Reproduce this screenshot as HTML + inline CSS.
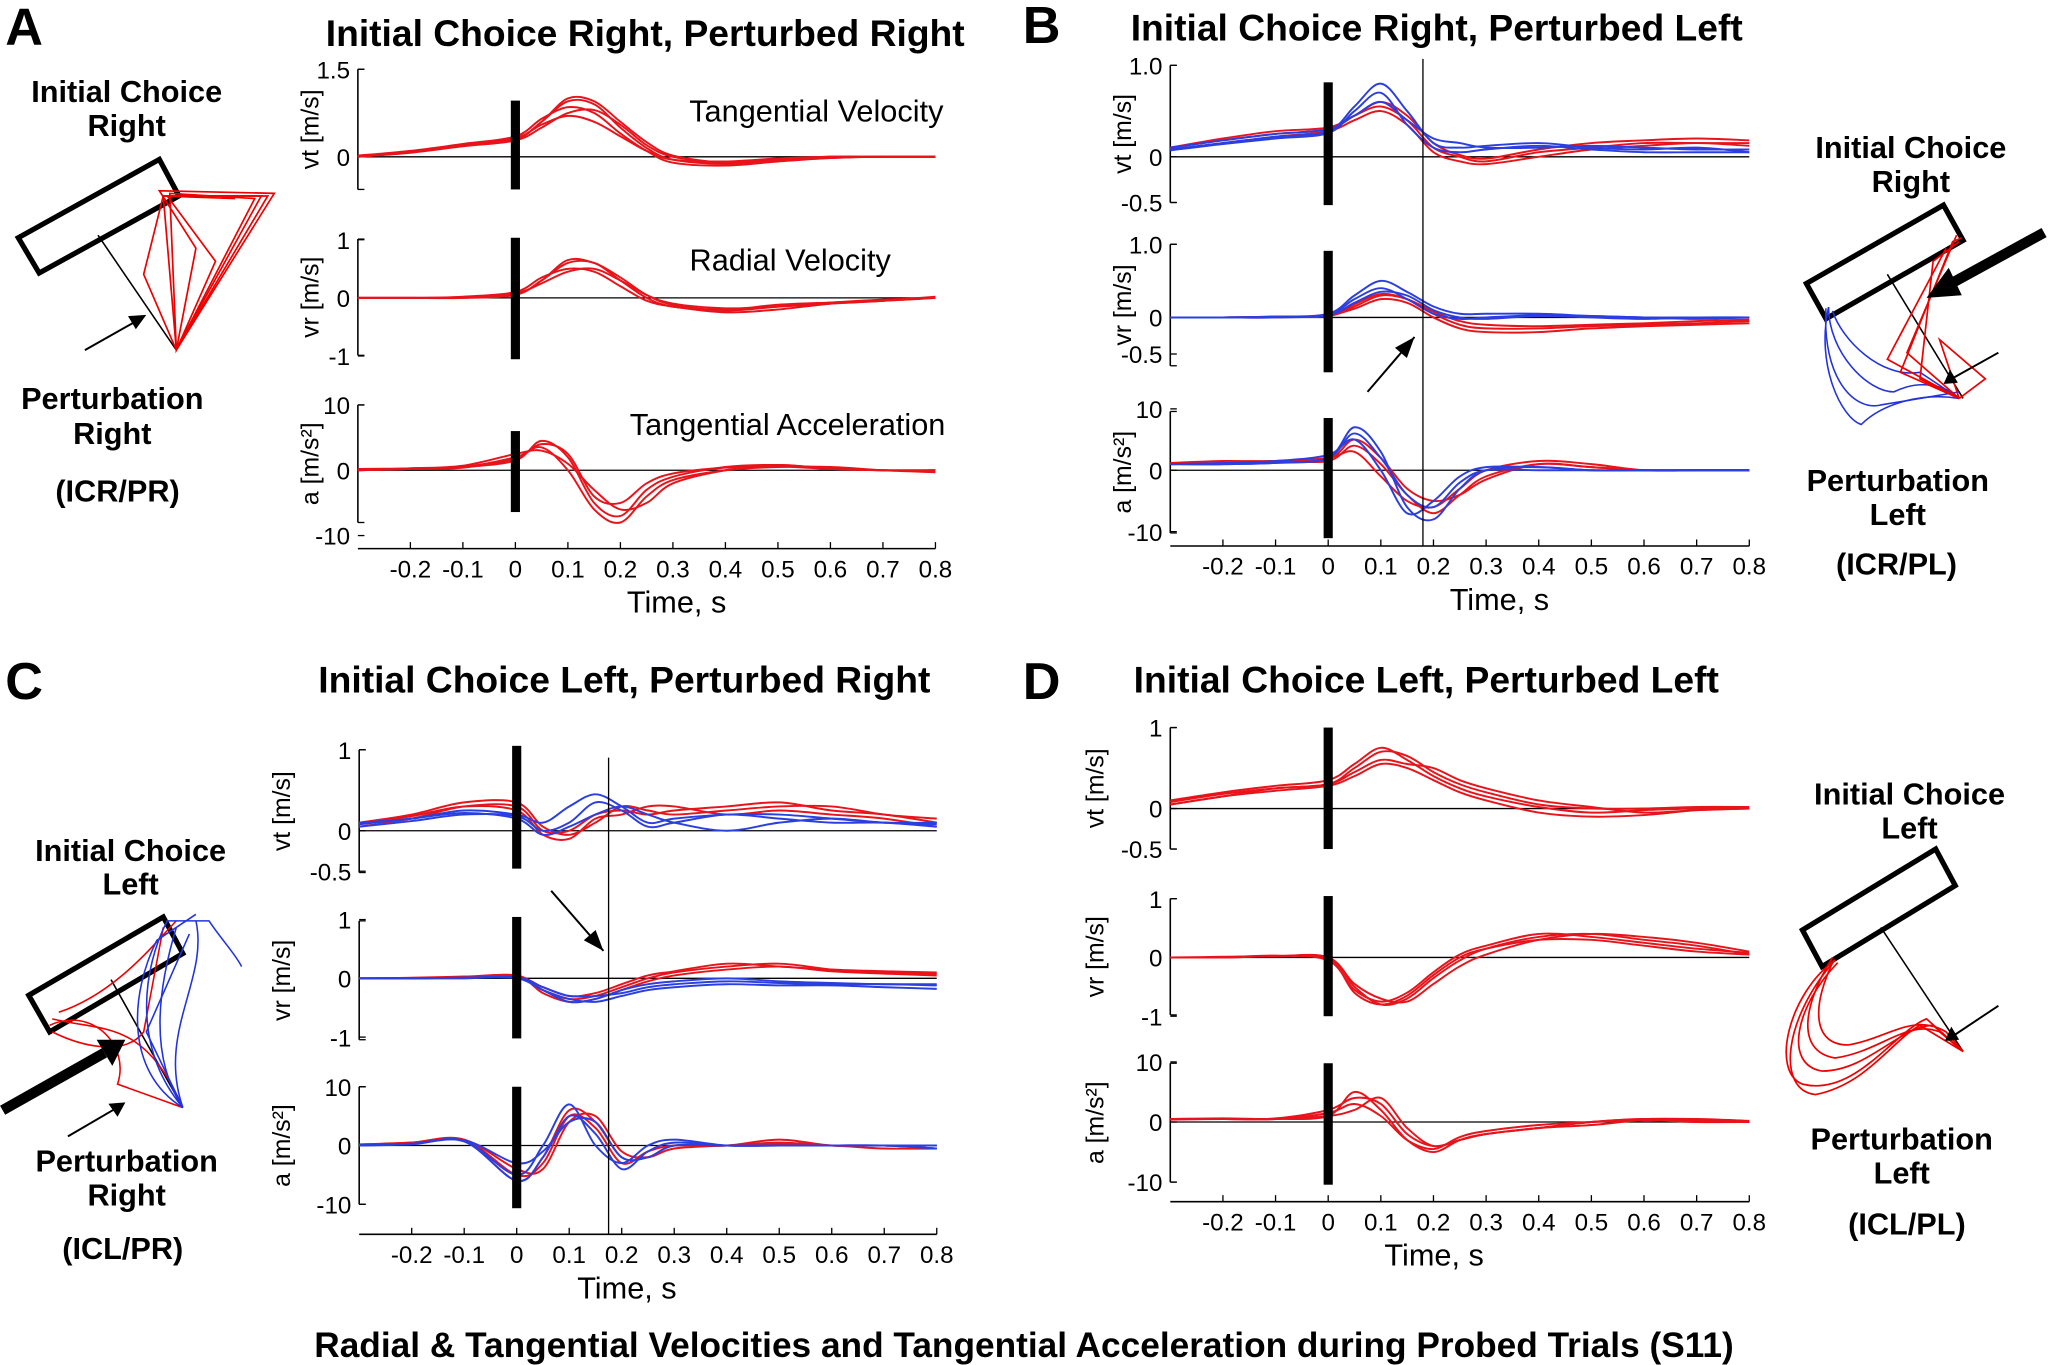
<!DOCTYPE html>
<html><head><meta charset="utf-8">
<style>
html,body{margin:0;padding:0;background:#fff;}
svg{display:block;font-family:"Liberation Sans",Arial,sans-serif;}
.b{font-weight:bold;}
</style></head>
<body>
<svg id="fig" width="2048" height="1365" viewBox="0 0 1568 1045" xmlns="http://www.w3.org/2000/svg">
<rect width="1568" height="1045" fill="#fff"/>
<g class="b" font-size="40">
<text x="4" y="34">A</text><text x="783" y="33">B</text><text x="4" y="535">C</text><text x="783" y="535">D</text>
</g>
<g class="b" font-size="28.5" text-anchor="middle">
<text x="494" y="35">Initial Choice Right, Perturbed Right</text>
<text x="1100" y="31">Initial Choice Right, Perturbed Left</text>
<text x="478" y="530">Initial Choice Left, Perturbed Right</text>
<text x="1092" y="530">Initial Choice Left, Perturbed Left</text>
<text x="784" y="1039" font-size="27">Radial &amp; Tangential Velocities and Tangential Acceleration during Probed Trials (S11)</text>
</g>
<g font-size="23.5">
<text x="625" y="93" text-anchor="middle">Tangential Velocity</text>
<text x="605" y="207" text-anchor="middle">Radial Velocity</text>
<text x="603" y="333" text-anchor="middle">Tangential Acceleration</text>
</g>
<g class="b" font-size="23.5" text-anchor="middle">
<text x="97" y="78">Initial Choice</text><text x="97" y="104">Right</text>
<text x="86" y="313">Perturbation</text><text x="86" y="340">Right</text><text x="90" y="384">(ICR/PR)</text>
<text x="1463" y="121">Initial Choice</text><text x="1463" y="147">Right</text>
<text x="1453" y="376">Perturbation</text><text x="1453" y="402">Left</text><text x="1452" y="440">(ICR/PL)</text>
<text x="100" y="659">Initial Choice</text><text x="100" y="685">Left</text>
<text x="97" y="897">Perturbation</text><text x="97" y="923">Right</text><text x="94" y="964">(ICL/PR)</text>
<text x="1462" y="616">Initial Choice</text><text x="1462" y="642">Left</text>
<text x="1456" y="880">Perturbation</text><text x="1456" y="906">Left</text><text x="1460" y="945">(ICL/PL)</text>
</g>
<g fill="none">
<polygon points="14,182 122,122 137,150 30,209" stroke="#000" stroke-width="4"/>
<line x1="75" y1="180" x2="135" y2="268" stroke="#000" stroke-width="1.2"/>
<g stroke="#e00" stroke-width="1.3">
<path d="M135,268 L125,150 L205,150 Z"/><path d="M135,268 L130,148 L195,152 Z"/><path d="M135,268 L150,190 L122,146 L210,148 Z"/><path d="M135,268 L165,200 L128,150 L200,150 Z"/><path d="M135,268 L110,210 L125,150 L180,152"/>
</g>
<line x1="65" y1="268" x2="104" y2="246" stroke="#000" stroke-width="1.5"/><path d="M112,241 L98,242 L104,252 Z" fill="#000"/>
</g>
<g fill="none">
<polygon points="1383,217 1488,157 1503,184 1398,244" stroke="#000" stroke-width="4"/>
<line x1="1445" y1="210" x2="1503" y2="305" stroke="#000" stroke-width="1.2"/>
<g stroke="#2233dd" stroke-width="1.2">
<path d="M1400,235 C1390,280 1410,320 1425,325 C1440,310 1470,300 1500,305"/><path d="M1400,235 C1400,270 1430,300 1450,300 C1470,290 1490,295 1500,305"/><path d="M1403,238 C1410,260 1440,290 1470,285 L1500,305"/><path d="M1398,236 C1395,290 1420,315 1440,310 L1500,300"/>
</g>
<g stroke="#e00" stroke-width="1.3">
<path d="M1500,305 L1455,285 L1495,185 L1502,182"/><path d="M1500,305 L1460,270 L1498,180"/><path d="M1500,305 L1470,290 L1480,200 L1500,185"/><path d="M1500,305 L1445,275 L1490,190"/><path d="M1500,305 L1485,260 L1520,290 L1500,305"/>
</g>
<line x1="1565" y1="178" x2="1492" y2="218" stroke="#000" stroke-width="8"/><path d="M1475,228 L1492,205 L1502,226 Z" fill="#000"/>
<line x1="1530" y1="270" x2="1496" y2="289" stroke="#000" stroke-width="1.5"/><path d="M1488,294 L1493,283 L1499,293 Z" fill="#000"/>
</g>
<g fill="none">
<polygon points="22,762 125,702 140,730 38,790" stroke="#000" stroke-width="4"/>
<line x1="85" y1="750" x2="140" y2="848" stroke="#000" stroke-width="1.2"/>
<g stroke="#e00" stroke-width="1.2">
<path d="M40,780 C80,790 110,780 140,848"/><path d="M38,785 C70,770 100,800 90,830 L140,848"/><path d="M45,775 C90,760 120,720 135,705"/><path d="M40,790 C60,800 95,810 110,790 L125,710"/>
</g>
<g stroke="#2233dd" stroke-width="1.2">
<path d="M140,848 C100,800 110,740 128,705 L160,705 C170,720 180,730 185,740"/><path d="M140,848 C115,810 120,760 135,710"/><path d="M140,848 C95,820 100,760 120,720 L150,700"/><path d="M140,848 L112,790 L145,715"/><path d="M140,848 C120,790 160,750 150,705"/>
</g>
<line x1="2" y1="850" x2="80" y2="806" stroke="#000" stroke-width="8"/><path d="M96,796 L74,796 L86,816 Z" fill="#000"/>
<line x1="52" y1="870" x2="88" y2="849" stroke="#000" stroke-width="1.5"/><path d="M96,844 L83,845 L90,855 Z" fill="#000"/>
</g>
<g fill="none">
<polygon points="1380,712 1482,650 1497,678 1395,740" stroke="#000" stroke-width="4"/>
<line x1="1440" y1="710" x2="1503" y2="805" stroke="#000" stroke-width="1.2"/>
<g stroke="#e00" stroke-width="1.3">
<path d="M1405,735 C1370,760 1355,820 1380,830 C1420,840 1450,790 1475,780 L1503,805"/><path d="M1407,737 C1375,770 1365,815 1395,820 C1430,820 1455,785 1480,785 L1503,805"/><path d="M1403,733 C1380,770 1375,805 1405,810 C1440,805 1460,780 1485,790 L1503,805"/><path d="M1405,735 C1365,780 1360,835 1390,838 C1430,830 1450,795 1470,785 L1503,805"/><path d="M1404,735 C1385,775 1390,800 1415,800 C1445,795 1465,775 1490,790 L1503,805"/>
</g>
<line x1="1530" y1="770" x2="1497" y2="792" stroke="#000" stroke-width="1.5"/><path d="M1489,797 L1494,786 L1500,796 Z" fill="#000"/>
</g>
<g id="charts"></g>
</svg>
<script>
const T = [-0.3,-0.2,-0.1,0,0.05,0.1,0.15,0.2,0.25,0.3,0.4,0.5,0.6,0.7,0.8];
const xTicks = [-0.2,-0.1,0,0.1,0.2,0.3,0.4,0.5,0.6,0.7,0.8];
const xTickLabels = ["-0.2","-0.1","0","0.1","0.2","0.3","0.4","0.5","0.6","0.7","0.8"];

const A_vt_red = [
[0,0.08,0.2,0.3,0.6,0.95,0.9,0.5,0.15,-0.05,-0.12,-0.05,0,0,0],
[0.02,0.1,0.22,0.35,0.65,0.85,0.75,0.4,0.1,-0.1,-0.15,-0.08,-0.02,0,0],
[0,0.07,0.18,0.28,0.5,0.75,0.8,0.55,0.2,0,-0.1,-0.05,0,0,0],
[0.01,0.09,0.2,0.32,0.55,0.7,0.6,0.35,0.1,-0.05,-0.08,-0.03,0,0,0],
[0,0.08,0.2,0.3,0.6,1.0,0.95,0.6,0.25,0.02,-0.1,-0.06,-0.02,0,0]];
const A_vr_red = [
[0,0,0,0.05,0.3,0.6,0.6,0.3,0,-0.15,-0.2,-0.12,-0.08,-0.05,0],
[0,0,0.02,0.1,0.35,0.5,0.45,0.2,-0.05,-0.15,-0.25,-0.2,-0.1,-0.05,0],
[0,0,0,0.08,0.25,0.45,0.5,0.3,0.05,-0.1,-0.18,-0.15,-0.1,-0.05,0.02],
[0,0,0.01,0.06,0.3,0.65,0.6,0.35,0.05,-0.12,-0.22,-0.15,-0.08,-0.03,0]];
const A_a_red = [
[0,0.2,0.5,1.5,4.5,2,-5,-7,-3,-1,0.5,0.8,0.3,0,0],
[0,0.3,0.5,2,3.5,0,-6,-8,-4,-1.5,0,0.5,0.5,0,-0.3],
[0.2,0.3,0.7,2.5,3,1,-3,-6,-5,-2,0,0.8,0.2,0,0],
[0,0.2,0.4,1.8,4,2.5,-4,-5,-2,-0.5,0.4,0.6,0.2,0,0]];

const B_vt_red = [
[0.1,0.18,0.25,0.3,0.45,0.55,0.4,0.1,0,-0.05,0.05,0.1,0.15,0.15,0.15],
[0.08,0.15,0.22,0.28,0.4,0.5,0.35,0.05,-0.05,-0.08,0,0.08,0.12,0.15,0.12],
[0.1,0.2,0.28,0.32,0.45,0.6,0.45,0.15,0.02,-0.02,0.08,0.15,0.18,0.2,0.18]];
const B_vt_blue = [
[0.08,0.15,0.22,0.28,0.55,0.8,0.5,0.15,0.1,0.12,0.15,0.1,0.08,0.1,0.05],
[0.1,0.18,0.25,0.3,0.45,0.6,0.4,0.2,0.15,0.1,0.1,0.12,0.1,0.08,0.08],
[0.07,0.14,0.2,0.26,0.5,0.7,0.35,0.1,0.05,0.08,0.12,0.08,0.05,0.05,0.05]];
const B_vr_red = [
[0,0,0.01,0.02,0.15,0.3,0.25,0.05,-0.1,-0.15,-0.15,-0.12,-0.1,-0.08,-0.05],
[0,0,0,0.03,0.12,0.25,0.2,0,-0.15,-0.2,-0.2,-0.15,-0.12,-0.1,-0.08],
[0,0,0.01,0.02,0.18,0.32,0.25,0.08,-0.05,-0.1,-0.12,-0.1,-0.08,-0.05,-0.03]];
const B_vr_blue = [
[0,0,0.01,0.05,0.3,0.5,0.35,0.15,0.05,0.05,0.05,0.02,0,0,0],
[0,0,0,0.03,0.2,0.35,0.3,0.1,0,-0.02,0.02,0,-0.02,0,0],
[0,0,0.01,0.04,0.25,0.4,0.25,0.05,-0.02,0,0.03,0.02,0,-0.02,0]];
const B_a_red = [
[1,1,1.5,1.5,4,1,-4,-7,-4,-1,1,0.5,0,0,0],
[1.2,1.5,1.5,2,3,-1,-5,-6,-3,0,1.5,1,0,0,0],
[1,1.2,1.5,1.8,5,2,-3,-5,-4,-1.5,1,0.5,0,0,0]];
const B_a_blue = [
[1,1,1.2,2,7,3,-6,-8,-3,0,0.5,0,0,0,0],
[1,1.2,1.5,2.5,5,0,-7,-5,-1,0.5,0.5,0,0,0,0],
[1,1,1.2,2,6,2,-4,-6,-2,0,0,0,0,0,0]];

const C_vt_red = [
[0.05,0.15,0.3,0.3,0,0,0.2,0.25,0.2,0.25,0.3,0.35,0.25,0.2,0.1],
[0.1,0.2,0.35,0.35,0.05,-0.05,0.1,0.3,0.25,0.2,0.25,0.3,0.3,0.2,0.15],
[0.08,0.18,0.3,0.25,-0.05,-0.1,0.15,0.2,0.3,0.3,0.2,0.25,0.2,0.15,0.05]];
const C_vt_blue = [
[0.1,0.15,0.25,0.2,0.1,0.3,0.45,0.3,0.1,0.15,0.2,0.2,0.15,0.1,0.1],
[0.05,0.12,0.2,0.18,0,0.1,0.35,0.25,0.05,0.1,0.2,0.15,0.1,0.1,0.05],
[0.08,0.15,0.22,0.15,-0.05,0.05,0.2,0.3,0.2,0.1,0,0.1,0.15,0.1,0.08]];
const C_vr_red = [
[0,0,0.02,0.05,-0.2,-0.35,-0.3,-0.15,0,0.1,0.2,0.25,0.15,0.1,0.08],
[0,0,0.02,0.03,-0.15,-0.3,-0.25,-0.1,0.05,0.12,0.25,0.2,0.15,0.12,0.1],
[0,0.01,0.03,0.04,-0.25,-0.4,-0.35,-0.2,-0.05,0.05,0.15,0.2,0.12,0.08,0.05]];
const C_vr_blue = [
[0,0,0.01,0,-0.2,-0.35,-0.4,-0.3,-0.2,-0.15,-0.1,-0.12,-0.12,-0.15,-0.18],
[0,0,0.01,0.02,-0.15,-0.3,-0.3,-0.25,-0.15,-0.1,-0.05,-0.08,-0.1,-0.1,-0.12],
[0,0,0,0.01,-0.2,-0.4,-0.35,-0.2,-0.1,-0.05,0,-0.05,-0.08,-0.1,-0.1]];
const C_a_red = [
[0,0.5,1,-5,-3,5,3,-3,-1,0,0,1,0,0,-0.5],
[0,0.5,0.8,-6,-2,6,4,-2,-2,0,0,0.5,0,0,0],
[0.2,0.5,1,-4,-4,4,5,-1,-2,-0.5,0,0.2,0,-0.5,-0.5]];
const C_a_blue = [
[0,0.3,0.8,-5,0,7,0,-3,0,1,0,0,0,0,-0.5],
[0,0.2,0.7,-6,-2,5,2,-4,-1,0.5,0,0,0,0,-0.5],
[0.1,0.3,0.9,-3,-1,4,4,-2,-2,0,0,0,0,0,0]];

const D_vt_red = [
[0.05,0.15,0.25,0.3,0.5,0.7,0.65,0.45,0.3,0.2,0.05,0,0,0.02,0.02],
[0.1,0.2,0.28,0.35,0.55,0.75,0.6,0.4,0.25,0.15,0.02,-0.05,-0.02,0,0],
[0.08,0.18,0.25,0.3,0.45,0.6,0.55,0.5,0.35,0.25,0.1,0.02,-0.05,-0.02,0],
[0.05,0.15,0.22,0.28,0.4,0.55,0.5,0.35,0.2,0.1,-0.05,-0.1,-0.08,-0.02,0]];
const D_vr_red = [
[0,0,0.02,0,-0.5,-0.8,-0.7,-0.35,-0.05,0.15,0.35,0.4,0.3,0.2,0.05],
[0,0,0.03,-0.05,-0.55,-0.75,-0.6,-0.25,0.05,0.2,0.4,0.35,0.25,0.15,0.08],
[0,0.01,0.02,0,-0.45,-0.7,-0.75,-0.45,-0.15,0.05,0.3,0.4,0.35,0.25,0.1],
[0,0,0.02,-0.02,-0.6,-0.8,-0.65,-0.3,0,0.15,0.3,0.3,0.2,0.1,0.05]];
const D_a_red = [
[0.5,0.5,0.5,1,5,2,-3,-5,-3,-2,-1,0,0.5,0.3,0],
[0.5,0.5,0.6,2,4,3,-2,-4,-3,-2,-1,-0.5,0.3,0.3,0],
[0.4,0.5,0.5,1.5,3,1,-3,-4.5,-2.5,-1.5,-0.5,0,0.3,0,0],
[0.5,0.6,0.5,1,2,4,-1,-4,-3,-2,-1,0,0.5,0.5,0.2]];

const vtTicksA=[1.5,0], vtTickLabelsA=["1.5","0"];
const vtTicksB=[1.0,0,-0.5], vtTickLabelsB=["1.0","0","-0.5"];
const vtTicksCD=[1,0,-0.5], vtTickLabelsCD=["1","0","-0.5"];
const vrTicksB=[1.0,0,-0.5], vrTickLabelsB=["1.0","0","-0.5"];
const vrTicks=[1,0,-1], vrTickLabels=["1","0","-1"];
const aTicks=[10,0,-10], aTickLabels=["10","0","-10"];

const NS="http://www.w3.org/2000/svg";
const root=document.getElementById('charts');
function mk(tag,attrs,parent){const e=document.createElementNS(NS,tag);for(const k in attrs)e.setAttribute(k,attrs[k]);(parent||root).appendChild(e);return e;}
function smooth(pts){let d="M"+pts[0][0].toFixed(1)+","+pts[0][1].toFixed(1);
 for(let i=0;i<pts.length-1;i++){const p0=pts[i-1]||pts[i],p1=pts[i],p2=pts[i+1],p3=pts[i+2]||p2;
  const c1=[p1[0]+(p2[0]-p0[0])/6,p1[1]+(p2[1]-p0[1])/6],c2=[p2[0]-(p3[0]-p1[0])/6,p2[1]-(p3[1]-p1[1])/6];
  d+=" C"+c1[0].toFixed(1)+","+c1[1].toFixed(1)+" "+c2[0].toFixed(1)+","+c2[1].toFixed(1)+" "+p2[0].toFixed(1)+","+p2[1].toFixed(1);}
 return d;}

function panel(P){
 const g=mk('g',{});
 
 
 const xs=t=>P.x0+(t+0.3)*P.pxs;
 const xEnd=xs(0.8);
 const xa=mk('line',{x1:P.x0,y1:P.xaxY,x2:xEnd,y2:P.xaxY,stroke:'#000','stroke-width':1.2},g);
 
 
 xTicks.forEach((t,i)=>{
  mk('line',{x1:xs(t),y1:P.xaxY,x2:xs(t),y2:P.xaxY-5,stroke:'#000','stroke-width':1},g);
  const tl=mk('text',{x:xs(t),y:P.xaxY+22,'font-size':18.5,'text-anchor':'middle'},g);
  tl.textContent=xTickLabels[i];
  
  
 });
 const xt=mk('text',{x:P.timeX,y:P.xaxY+49,'font-size':23.5,'text-anchor':'middle'},g);
 xt.textContent='Time, s';
 
 
 P.subs.forEach(S=>{
  const ys=v=>S.y0-v*S.k;
  const sg=mk('g',{},g);
  
  
  mk('line',{x1:P.x0,y1:S.top,x2:P.x0,y2:S.bot,stroke:'#000','stroke-width':1.2},sg);
  mk('line',{x1:P.x0,y1:S.top,x2:P.x0+5,y2:S.top,stroke:'#000','stroke-width':1},sg);
  mk('line',{x1:P.x0,y1:S.bot,x2:P.x0+5,y2:S.bot,stroke:'#000','stroke-width':1},sg);
  S.ticks.forEach((v,i)=>{
   mk('line',{x1:P.x0,y1:ys(v),x2:P.x0+5,y2:ys(v),stroke:'#000','stroke-width':1},sg);
   const tl=mk('text',{x:P.x0-6,y:ys(v)+7,'font-size':18.5,'text-anchor':'end'},sg);
   tl.textContent=S.tickLabels[i];
   
   
  });
  const cy=(S.top+S.bot)/2;
  const yl=mk('text',{x:P.ylx,y:cy,'font-size':19,'text-anchor':'middle',transform:'rotate(-90 '+P.ylx+' '+cy+')'},sg);
  yl.textContent=S.label;
  
  
  mk('line',{x1:P.x0,y1:ys(0),x2:xEnd,y2:ys(0),stroke:'#000','stroke-width':1},sg);
  S.series.forEach(([arr,col])=>{
   arr.forEach(vals=>{
    const p=mk('path',{d:smooth(T.map((t,i)=>[xs(t),ys(vals[i])])),fill:'none',stroke:col,'stroke-width':1.5},sg);
    
    
   });
  });
  const bar=mk('rect',{x:xs(0)-3.5,y:S.barTop,width:7,height:S.barBot-S.barTop,fill:'#000'},sg);
  
  
 });
 if(P.vline){const vl=mk('line',{x1:xs(P.vline[0]),y1:P.vline[1],x2:xs(P.vline[0]),y2:P.xaxY,stroke:'#000','stroke-width':1},g);
  
  }
 if(P.arrow){const a=P.arrow;
  const al=mk('line',{x1:a[0],y1:a[1],x2:a[2],y2:a[3],stroke:'#000','stroke-width':1.5},g);
  
  
  const ang=Math.atan2(a[3]-a[1],a[2]-a[0]),L=16,W=6;
  const bx=a[2]-L*Math.cos(ang),by=a[3]-L*Math.sin(ang);
  mk('path',{d:`M${a[2]},${a[3]} L${bx-W*Math.sin(ang)},${by+W*Math.cos(ang)} L${bx+W*Math.sin(ang)},${by-W*Math.cos(ang)} Z`,fill:'#000'},g);}
}
const R='#e8141b',Bl='#2b3fe0';
panel({id:'a',x0:274,pxs:402,xaxY:420,ylx:244,timeX:518,subs:[
 {name:'vt',label:'vt [m/s]',y0:120,k:44.7,top:53,bot:145,ticks:vtTicksA,tickLabels:vtTickLabelsA,barTop:77,barBot:145,series:[[A_vt_red,R]]},
 {name:'vr',label:'vr [m/s]',y0:228,k:44.5,top:183,bot:272,ticks:vrTicks,tickLabels:vrTickLabels,barTop:182,barBot:275,series:[[A_vr_red,R]]},
 {name:'a',label:'a [m/s²]',y0:360,k:5,top:310,bot:400,ticks:aTicks,tickLabels:aTickLabels,barTop:330,barBot:392,series:[[A_a_red,R]]}]});
panel({id:'b',x0:896,pxs:403,xaxY:418,ylx:866,timeX:1148,subs:[
 {name:'vt',label:'vt [m/s]',y0:120,k:70,top:50,bot:155,ticks:vtTicksB,tickLabels:vtTickLabelsB,barTop:63,barBot:157,series:[[B_vt_red,R],[B_vt_blue,Bl]]},
 {name:'vr',label:'vr [m/s]',y0:243,k:56,top:187,bot:280,ticks:vrTicksB,tickLabels:vrTickLabelsB,barTop:192,barBot:285,series:[[B_vr_red,R],[B_vr_blue,Bl]]},
 {name:'a',label:'a [m/s²]',y0:360,k:4.7,top:315,bot:408,ticks:aTicks,tickLabels:aTickLabels,barTop:320,barBot:412,series:[[B_a_red,R],[B_a_blue,Bl]]}],
 vline:[0.18,45],arrow:[1047,300,1083,258]});
panel({id:'c',x0:275,pxs:402,xaxY:945,ylx:222,timeX:480,subs:[
 {name:'vt',label:'vt [m/s]',y0:636,k:62,top:574,bot:668,ticks:vtTicksCD,tickLabels:vtTickLabelsCD,barTop:571,barBot:665,series:[[C_vt_red,R],[C_vt_blue,Bl]]},
 {name:'vr',label:'vr [m/s]',y0:749,k:45,top:705,bot:796,ticks:vrTicks,tickLabels:vrTickLabels,barTop:702,barBot:795,series:[[C_vr_red,R],[C_vr_blue,Bl]]},
 {name:'a',label:'a [m/s²]',y0:877,k:4.5,top:832,bot:922,ticks:aTicks,tickLabels:aTickLabels,barTop:832,barBot:925,series:[[C_a_red,R],[C_a_blue,Bl]]}],
 vline:[0.175,580],arrow:[422,682,462,728]});
panel({id:'d',x0:896,pxs:403,xaxY:920,ylx:845,timeX:1098,subs:[
 {name:'vt',label:'vt [m/s]',y0:619,k:62,top:557,bot:650,ticks:vtTicksCD,tickLabels:vtTickLabelsCD,barTop:557,barBot:650,series:[[D_vt_red,R]]},
 {name:'vr',label:'vr [m/s]',y0:733,k:45,top:688,bot:777,ticks:vrTicks,tickLabels:vrTickLabels,barTop:686,barBot:778,series:[[D_vr_red,R]]},
 {name:'a',label:'a [m/s²]',y0:859,k:4.6,top:814,bot:905,ticks:aTicks,tickLabels:aTickLabels,barTop:814,barBot:907,series:[[D_a_red,R]]}]});
</script>
</body></html>
